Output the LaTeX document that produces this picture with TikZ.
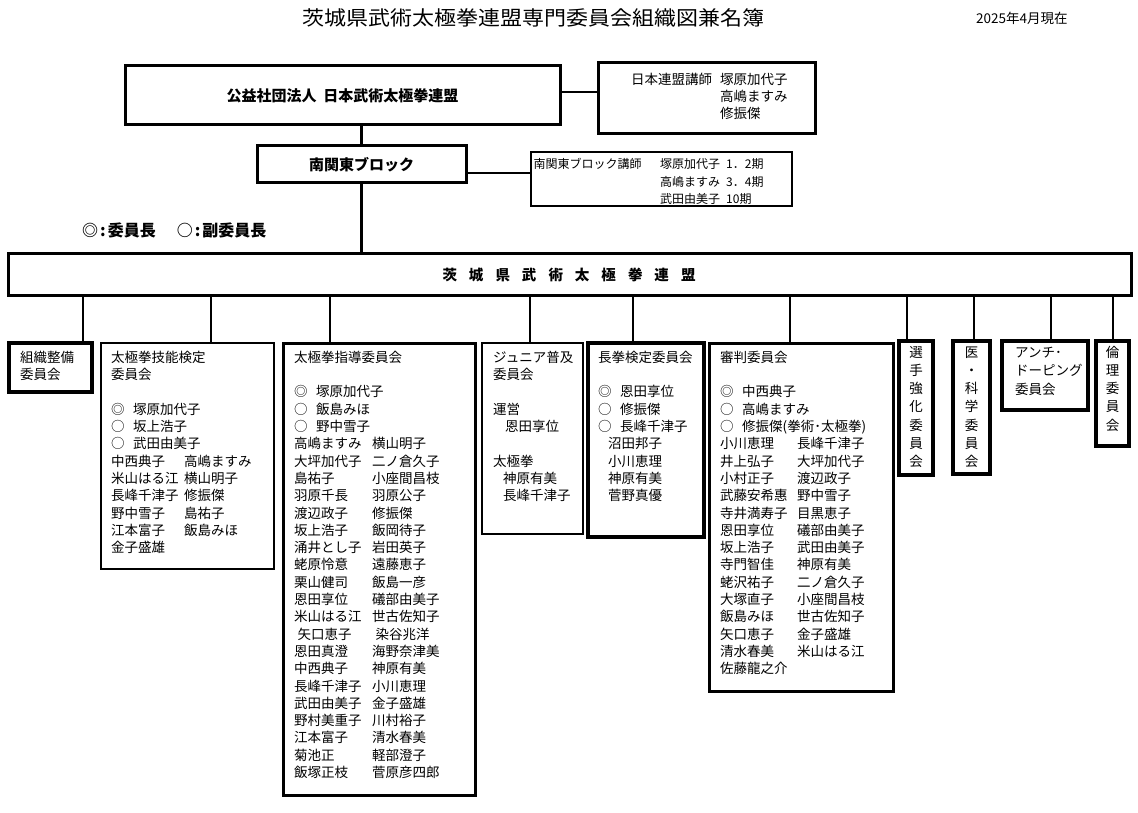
\documentclass[tikz,border=0pt]{standalone}
\usepackage{fontspec}
\setmainfont{Noto Sans CJK JP}
\usepackage{graphicx}
\newcommand\tcol[3]{\makebox[#1][l]{#2}#3}
\newcommand\mrk[2]{\makebox[22pt][l]{#1}#2}
\begin{document}
\begin{tikzpicture}[x=1pt,y=-1pt,
  bx/.style={draw, line width=#1, inner sep=0pt, outer sep=0pt, anchor=north west},
  bx/.default=2.6pt,
  txt/.style={inner sep=0pt, anchor=north west, align=left, font=\fontsize{13.5pt}{17.3pt}\selectfont},
  vtxt/.style={inner sep=0pt, anchor=north, align=center, font=\fontsize{13.5pt}{18.2pt}\selectfont},
  ln/.style={line width=2.2pt},
  hd/.style={inner sep=0pt, font=\fontsize{15pt}{18pt}\selectfont\bfseries}]
\useasboundingbox[fill=white] (0,0) rectangle (1138,813);

% title
\node[inner sep=0pt, font=\fontsize{20pt}{24pt}\selectfont] (title) at (533.5,18) {\scalebox{1.1}[1]{茨城県武術太極拳連盟専門委員会組織図兼名簿}};
\node[inner sep=0pt, anchor=west, font=\fontsize{13.5pt}{16pt}\selectfont] (date) at (976,18) {2025年4月現在};

% top boxes
\node[bx=3pt, minimum width=435pt, minimum height=59pt] (kk) at (125,66) {};
\node[hd] (kkt) at (342.5,95.5) {公益社団法人\hspace{7pt}日本武術太極拳連盟};
\node[bx=3pt, minimum width=217pt, minimum height=71pt] (nt) at (598,63) {};
\node[txt] (ntt) at (631,72) {\strut\makebox[89pt][l]{日本連盟講師}塚原加代子\\\hspace*{89pt}高嶋ますみ\\\hspace*{89pt}修振傑};
\node[bx=3pt, minimum width=209pt, minimum height=37pt] (nk) at (257,146) {};
\node[hd] (nkt) at (361.5,164.5) {南関東ブロック};
\node[bx=2.2pt, minimum width=261pt, minimum height=54pt] (nkb) at (531,152) {};
\node[txt, font=\fontsize{12pt}{17.5pt}\selectfont] (nkbt) at (533.5,156.3) {\strut\makebox[126.5pt][l]{南関東ブロック講師}塚原加代子\hspace{6pt}1．2期\\\hspace*{126.5pt}高嶋ますみ\hspace{6pt}3．4期\\\hspace*{126.5pt}武田由美子\hspace{6pt}10期};

\node[inner sep=0pt, anchor=west, font=\fontsize{16pt}{19pt}\selectfont\bfseries] (leg) at (82,230) {◎\hspace{2pt}:\hspace{2pt}委員長\hspace{21pt}○\hspace{2pt}:\hspace{2pt}副委員長};

% main box
\node[bx=3pt, minimum width=1123pt, minimum height=41pt] (main) at (8,254) {};
\node[hd, font=\fontsize{14.5pt}{18pt}\selectfont\bfseries] (maint) at (569,275) {茨\hspace{12pt}城\hspace{12pt}県\hspace{12pt}武\hspace{12pt}術\hspace{12pt}太\hspace{12pt}極\hspace{12pt}拳\hspace{12pt}連\hspace{12pt}盟};

\draw[ln] (kk.east |- 0,92) -- (nt.west |- 0,92);
\draw[ln] (nk.north) -- (nk.north |- kk.south);
\draw[ln] (nk.south) -- (nk.south |- main.north);
\draw[ln] (nk.east |- 0,173) -- (nkb.west |- 0,173);

% committee boxes
\node[bx=3.2pt, minimum width=83pt, minimum height=49pt] (c1) at (9,343) {};
\node[bx=2.4pt, minimum width=173pt, minimum height=226pt] (c2) at (101,343) {};
\node[bx=3pt, minimum width=192pt, minimum height=452pt] (c3) at (283,343) {};
\node[bx=2.6pt, minimum width=101pt, minimum height=191pt] (c4) at (482,343) {};
\node[bx=3.4pt, minimum width=116pt, minimum height=194pt] (c5) at (588,343) {};
\node[bx=3pt, minimum width=184pt, minimum height=348pt] (c6) at (709,343) {};
\node[bx=3.4pt, minimum width=34pt, minimum height=134pt] (c7) at (899,341) {};
\node[bx=3.4pt, minimum width=37pt, minimum height=133pt] (c8) at (953,341) {};
\node[bx=3.4pt, minimum width=86pt, minimum height=69pt] (c9) at (1002,341) {};
\node[bx=3.4pt, minimum width=33pt, minimum height=105pt] (c10) at (1096,341) {};

% drop lines
\coordinate (d1) at (83,300);
\coordinate (d2) at (211,300);
\coordinate (d3) at (330,300);
\coordinate (d4) at (530,300);
\coordinate (d5) at (633,300);
\coordinate (d6) at (790,300);
\coordinate (d7) at (907,300);
\coordinate (d8) at (974,300);
\coordinate (d9) at (1051,300);
\coordinate (d10) at (1113,300);
\foreach \i in {1,...,10} \draw[ln] (d\i |- main.south) -- (d\i |- c\i.north);

% texts
\node[txt] (c1t) at (20,350) {\strut 組織整備\\委員会};
\node[txt] (c2t) at (111,350) {\strut 太極拳技能検定\\委員会\\\strut\\
\mrk{◎}{塚原加代子}\\\mrk{○}{坂上浩子}\\\mrk{○}{武田由美子}\\
\tcol{73pt}{中西典子}{高嶋ますみ}\\
\tcol{73pt}{米山はる江}{横山明子}\\
\tcol{73pt}{長峰千津子}{修振傑}\\
\tcol{73pt}{野中雪子}{島祐子}\\
\tcol{73pt}{江本富子}{飯島みほ}\\
金子盛雄};
\node[txt] (c3t) at (294,350) {\strut 太極拳指導委員会\\\strut\\
\mrk{◎}{塚原加代子}\\\mrk{○}{飯島みほ}\\\mrk{○}{野中雪子}\\
\tcol{78pt}{高嶋ますみ}{横山明子}\\
\tcol{78pt}{大坪加代子}{二ノ倉久子}\\
\tcol{78pt}{島祐子}{小座間昌枝}\\
\tcol{78pt}{羽原千長}{羽原公子}\\
\tcol{78pt}{渡辺政子}{修振傑}\\
\tcol{78pt}{坂上浩子}{飯岡待子}\\
\tcol{78pt}{涌井とし子}{岩田英子}\\
\tcol{78pt}{蛯原怜意}{遠藤恵子}\\
\tcol{78pt}{栗山健司}{飯島一彦}\\
\tcol{78pt}{恩田享位}{礒部由美子}\\
\tcol{78pt}{米山はる江}{世古佐知子}\\
\tcol{78pt}{\hspace*{3.5pt}矢口恵子}{\hspace*{3.5pt}染谷兆洋}\\
\tcol{78pt}{恩田真澄}{海野奈津美}\\
\tcol{78pt}{中西典子}{神原有美}\\
\tcol{78pt}{長峰千津子}{小川恵理}\\
\tcol{78pt}{武田由美子}{金子盛雄}\\
\tcol{78pt}{野村美重子}{川村裕子}\\
\tcol{78pt}{江本富子}{清水春美}\\
\tcol{78pt}{菊池正}{軽部澄子}\\
\tcol{78pt}{飯塚正枝}{菅原彦四郎}};
\node[txt] (c4t) at (493,350) {\strut ジュニア普及\\委員会\\\strut\\運営\\\hspace*{12pt}恩田享位\\\strut\\太極拳\\\hspace*{10pt}神原有美\\\hspace*{10pt}長峰千津子};
\node[txt] (c5t) at (598,350) {\strut 長拳検定委員会\\\strut\\
\mrk{◎}{恩田享位}\\\mrk{○}{修振傑}\\\mrk{○}{長峰千津子}\\
\hspace*{10pt}沼田邦子\\\hspace*{10pt}小川恵理\\\hspace*{10pt}神原有美\\\hspace*{10pt}菅野真優};
\node[txt] (c6t) at (720,350) {\strut 審判委員会\\\strut\\
\mrk{◎}{中西典子}\\\mrk{○}{高嶋ますみ}\\\mrk{○}{修振傑(拳術･太極拳)}\\
\tcol{77pt}{小川恵理}{長峰千津子}\\
\tcol{77pt}{井上弘子}{大坪加代子}\\
\tcol{77pt}{小村正子}{渡辺政子}\\
\tcol{77pt}{武藤安希惠}{野中雪子}\\
\tcol{77pt}{寺井満寿子}{目黒恵子}\\
\tcol{77pt}{恩田享位}{礒部由美子}\\
\tcol{77pt}{坂上浩子}{武田由美子}\\
\tcol{77pt}{寺門智佳}{神原有美}\\
\tcol{77pt}{蛯沢祐子}{二ノ倉久子}\\
\tcol{77pt}{大塚直子}{小座間昌枝}\\
\tcol{77pt}{飯島みほ}{世古佐知子}\\
\tcol{77pt}{矢口恵子}{金子盛雄}\\
\tcol{77pt}{清水春美}{米山はる江}\\
佐藤龍之介};
\node[vtxt] (c7t) at (916,344.3) {\strut 選\\手\\強\\化\\委\\員\\会};
\node[vtxt] (c8t) at (971.5,344.3) {\strut 医\\・\\科\\学\\委\\員\\会};
\node[txt, font=\fontsize{13.5pt}{18.5pt}\selectfont] (c9t) at (1015,344.2) {\strut アンチ･\\ドーピング\\委員会};
\node[vtxt] (c10t) at (1112.5,344.3) {\strut 倫\\理\\委\\員\\会};
\end{tikzpicture}
\end{document}
